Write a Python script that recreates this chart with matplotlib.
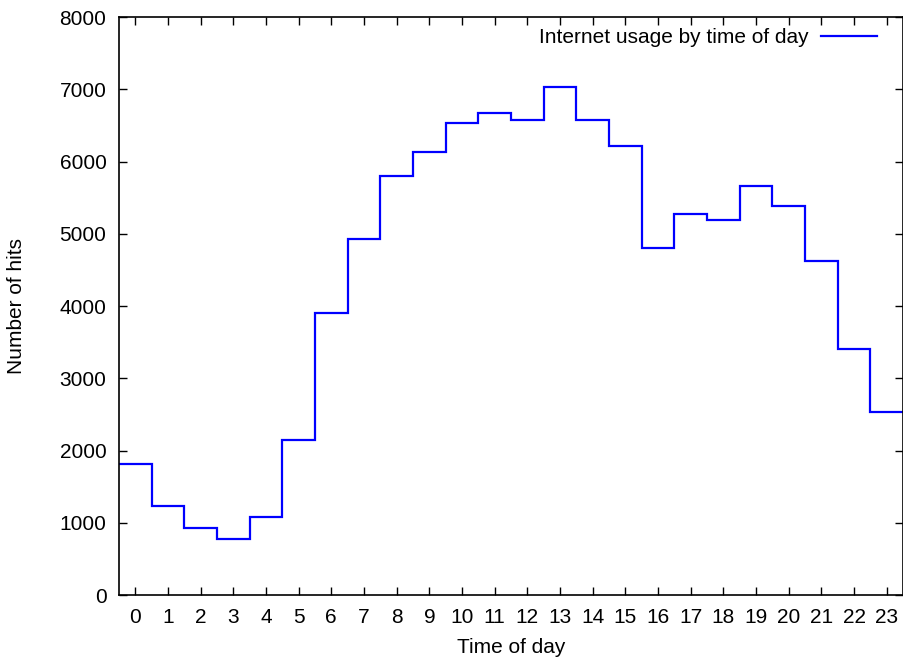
import matplotlib.pyplot as plt
import numpy as np

plt.rcParams['font.family'] = ['Liberation Sans', 'DejaVu Sans']

# horas del dia y numero de visitas
horas = list(range(24))
visitas = [1810, 1230, 927, 775, 1080, 2145, 3903, 4927, 5799, 6131, 6533, 6671,
           6574, 7031, 6574, 6215, 4803, 5273, 5190, 5661, 5384, 4623, 3405, 2533]

fig = plt.figure(figsize=(9.04, 6.62), dpi=100)
ax = fig.add_axes([0.1316, 0.1012, 0.8673, 0.8731])

bordes = np.arange(-0.5, 24, 1.0)
ax.stairs(visitas, bordes, baseline=None, color='#0000ff', linewidth=1.6,
          label='Internet usage by time of day')

ax.set_xlim(-0.5, 23.5)
ax.set_ylim(0, 8000)
ax.set_xticks(horas)
ax.set_yticks(range(0, 8001, 1000))
ax.tick_params(direction='in', top=True, right=True, length=6, width=1,
               labelsize=15)
ax.tick_params(axis='y', pad=9)
ax.tick_params(axis='x', pad=9)
for s in ax.spines.values():
    s.set_linewidth(1.2)

ax.set_xlabel('Time of day', fontsize=15, labelpad=8)
ax.set_ylabel('Number of hits', fontsize=15, labelpad=24)

ax.legend(loc='upper right', bbox_to_anchor=(0.986, 1.006), frameon=False,
          markerfirst=False, fontsize=15, handlelength=2.7, handletextpad=0.6,
          borderaxespad=0.3)

plt.savefig('out.png', dpi=100)
